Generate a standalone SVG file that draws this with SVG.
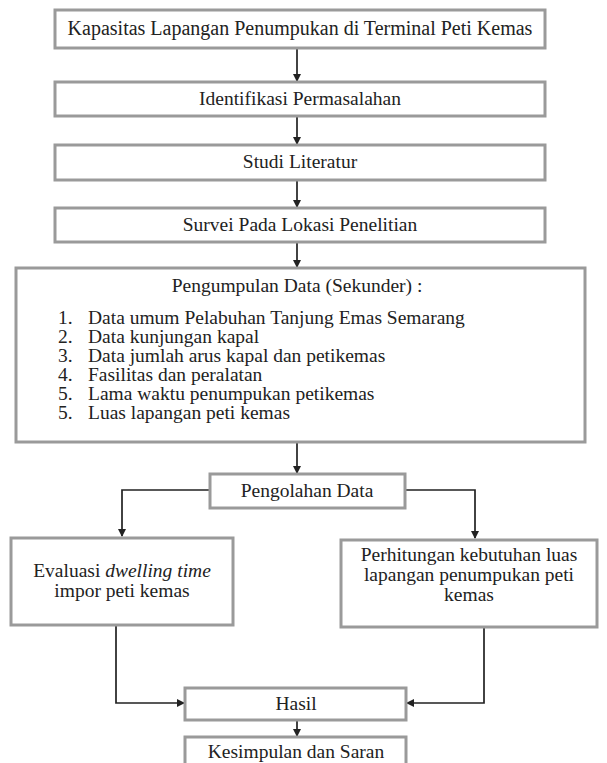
<svg xmlns="http://www.w3.org/2000/svg" width="607" height="763" viewBox="0 0 607 763">
<style>
.box{fill:#fff;stroke:#9a9a9a;stroke-width:3}
.t{font-family:'Liberation Serif','DejaVu Serif','Times New Roman',serif;font-size:19.5px;fill:#222}
.big{font-size:20px}
.c{text-anchor:middle}
.ln{fill:none;stroke:#222;stroke-width:1.7}
</style>
<defs>
<marker id="ah" markerWidth="8" markerHeight="8" refX="7" refY="4" orient="auto" markerUnits="userSpaceOnUse">
<path d="M0,0 L8,4 L0,8 z" fill="#222"/>
</marker>
</defs>
<rect width="607" height="763" fill="#fff"/>
<g id="connectors">
<line class="ln" x1="297" y1="48" x2="297" y2="81" marker-end="url(#ah)"/>
<line class="ln" x1="297" y1="117" x2="297" y2="144" marker-end="url(#ah)"/>
<line class="ln" x1="297" y1="181" x2="297" y2="207" marker-end="url(#ah)"/>
<line class="ln" x1="297" y1="243" x2="297" y2="267" marker-end="url(#ah)"/>
<line class="ln" x1="297" y1="443" x2="297" y2="473" marker-end="url(#ah)"/>
<polyline class="ln" points="209,490 122,490 122,536" marker-end="url(#ah)"/>
<polyline class="ln" points="406,490 475,490 475,538" marker-end="url(#ah)"/>
<polyline class="ln" points="116,626 116,703 184,703" marker-end="url(#ah)"/>
<polyline class="ln" points="484,628 484,703 407,703" marker-end="url(#ah)"/>
<line class="ln" x1="297" y1="721" x2="297" y2="736" marker-end="url(#ah)"/>
</g>
<g id="n1"><rect class="box" x="55" y="10" width="490" height="38"/><text class="t big c" x="300" y="35">Kapasitas Lapangan Penumpukan di Terminal Peti Kemas</text></g>
<g id="n2"><rect class="box" x="55" y="82" width="490" height="34"/><text class="t c" x="300" y="105">Identifikasi Permasalahan</text></g>
<g id="n3"><rect class="box" x="55" y="145" width="490" height="35"/><text class="t c" x="300" y="168">Studi Literatur</text></g>
<g id="n4"><rect class="box" x="55" y="208" width="490" height="34"/><text class="t c" x="300" y="231">Survei Pada Lokasi Penelitian</text></g>
<g id="n5"><rect class="box" x="16" y="268" width="569" height="174"/>
<text class="t c" x="297" y="292">Pengumpulan Data (Sekunder) :</text>
<text class="t" x="58" y="324">1.</text><text class="t" x="88" y="324">Data umum Pelabuhan Tanjung Emas Semarang</text>
<text class="t" x="58" y="343">2.</text><text class="t" x="88" y="343">Data kunjungan kapal</text>
<text class="t" x="58" y="362">3.</text><text class="t" x="88" y="362">Data jumlah arus kapal dan petikemas</text>
<text class="t" x="58" y="381">4.</text><text class="t" x="88" y="381">Fasilitas dan peralatan</text>
<text class="t" x="58" y="400">5.</text><text class="t" x="88" y="400">Lama waktu penumpukan petikemas</text>
<text class="t" x="58" y="419">5.</text><text class="t" x="88" y="419">Luas lapangan peti kemas</text>
</g>
<g id="n6"><rect class="box" x="210" y="474" width="195" height="34"/><text class="t c" x="307" y="497">Pengolahan Data</text></g>
<g id="n7"><rect class="box" x="11" y="538" width="222" height="87"/>
<text class="t c" x="122" y="577">Evaluasi <tspan font-style="italic">dwelling time</tspan></text>
<text class="t c" x="122" y="597">impor peti kemas</text></g>
<g id="n8"><rect class="box" x="341" y="540" width="256" height="87"/>
<text class="t c" x="469" y="561">Perhitungan kebutuhan luas</text>
<text class="t c" x="469" y="581">lapangan penumpukan peti</text>
<text class="t c" x="469" y="601">kemas</text></g>
<g id="n9"><rect class="box" x="185" y="688" width="221" height="32"/><text class="t c" x="296" y="710">Hasil</text></g>
<g id="n10"><rect class="box" x="185" y="737" width="221" height="30"/><text class="t c" x="296" y="758">Kesimpulan dan Saran</text></g>
</svg>
